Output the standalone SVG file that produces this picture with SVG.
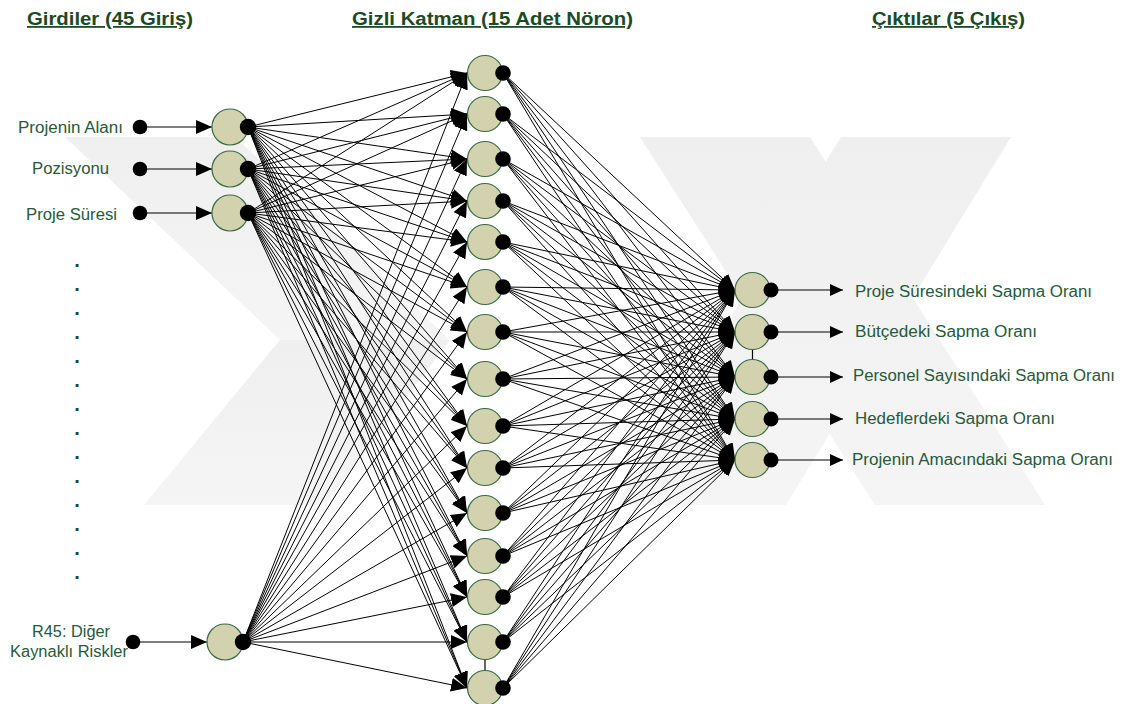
<svg xmlns="http://www.w3.org/2000/svg" width="1124" height="704" viewBox="0 0 1124 704">
  <defs>
    <style>
      .title { font-family: "Liberation Sans", Arial, sans-serif; font-size: 18px; font-weight: bold; fill: #1c4a26; text-decoration: underline; }
      .lbl { font-family: "Liberation Sans", Arial, sans-serif; font-size: 16px; fill: #28593a; }
      .dots { font-family: "Liberation Sans", Arial, sans-serif; font-size: 20px; font-weight: bold; fill: #1f4d2b; text-anchor: middle; }
      .wire line { stroke: #000; stroke-width: 1; marker-end: url(#ah); }
      .io { stroke: #000; stroke-width: 1.2; }
      .cell { fill: #d2d2ae; stroke: #3b6a45; stroke-width: 1.2; }
      .pin { fill: #000; }
    </style>
    <linearGradient id="fade" x1="0" y1="0" x2="0" y2="1">
      <stop offset="0" stop-color="#efefef"/>
      <stop offset="1" stop-color="#f5f5f5"/>
    </linearGradient>
    <marker id="ah" viewBox="0 0 16 14" refX="16" refY="7" markerWidth="16" markerHeight="14" markerUnits="userSpaceOnUse" orient="auto">
      <path d="M0,0 L16,7 L0,14 z" fill="#000"/>
    </marker>
    <marker id="ahs" viewBox="0 0 13 12" refX="13" refY="6" markerWidth="13" markerHeight="12" markerUnits="userSpaceOnUse" orient="auto">
      <path d="M0,0 L13,6 L0,12 z" fill="#000"/>
    </marker>
  </defs>

  <rect width="1124" height="704" fill="#fff"/>

  <!-- background emblem -->
  <g id="emblem" fill="url(#fade)">
    <polygon points="65,137 235,137 450,340 280,340"/>
    <polygon points="280,340 450,340 324,505 144,505"/>
    <polygon points="640,137 810,137 1045,505 875,505"/>
    <polygon points="841,137 1011,137 786,505 616,505"/>
  </g>

  <!-- headings -->
  <g id="headings">
    <text class="title" x="27" y="25" textLength="166" lengthAdjust="spacingAndGlyphs">Girdiler (45 Giriş)</text>
    <text class="title" x="352" y="25" textLength="281" lengthAdjust="spacingAndGlyphs">Gizli Katman (15 Adet Nöron)</text>
    <text class="title" x="872" y="25" textLength="153" lengthAdjust="spacingAndGlyphs">Çıktılar (5 Çıkış)</text>
  </g>

  <!-- connectors -->
  <g id="connectors">
    <!-- input feeds -->
    <line class="io" x1="140" y1="127" x2="212" y2="127" marker-end="url(#ah)"/>
    <line class="io" x1="140" y1="169" x2="212" y2="169" marker-end="url(#ah)"/>
    <line class="io" x1="140" y1="213" x2="212" y2="213" marker-end="url(#ah)"/>
    <line class="io" x1="133" y1="642" x2="207" y2="642" marker-end="url(#ah)"/>
    <!-- output feeds -->
    <line class="io" x1="771" y1="290" x2="843" y2="290" marker-end="url(#ahs)"/>
    <line class="io" x1="771" y1="332" x2="843" y2="332" marker-end="url(#ahs)"/>
    <line class="io" x1="771" y1="377" x2="843" y2="377" marker-end="url(#ahs)"/>
    <line class="io" x1="771" y1="419" x2="843" y2="419" marker-end="url(#ahs)"/>
    <line class="io" x1="771" y1="460" x2="843" y2="460" marker-end="url(#ahs)"/>
    <!-- short links between stacked cells -->
    <line class="io" x1="485" y1="659" x2="485" y2="671"/>
    <line class="io" x1="752.5" y1="349" x2="752.5" y2="360"/>

    <!-- input layer to hidden layer -->
    <g class="wire">
      <line x1="248" y1="127" x2="467" y2="73"/><line x1="248" y1="127" x2="467" y2="114"/><line x1="248" y1="127" x2="467" y2="159"/><line x1="248" y1="127" x2="467" y2="201"/><line x1="248" y1="127" x2="467" y2="242"/>
      <line x1="248" y1="127" x2="467" y2="287"/><line x1="248" y1="127" x2="467" y2="332"/><line x1="248" y1="127" x2="467" y2="379"/><line x1="248" y1="127" x2="467" y2="426"/><line x1="248" y1="127" x2="467" y2="468"/>
      <line x1="248" y1="127" x2="467" y2="513"/><line x1="248" y1="127" x2="467" y2="556"/><line x1="248" y1="127" x2="467" y2="597"/><line x1="248" y1="127" x2="467" y2="642"/><line x1="248" y1="127" x2="467" y2="688"/>

      <line x1="248" y1="169" x2="467" y2="73"/><line x1="248" y1="169" x2="467" y2="114"/><line x1="248" y1="169" x2="467" y2="159"/><line x1="248" y1="169" x2="467" y2="201"/><line x1="248" y1="169" x2="467" y2="242"/>
      <line x1="248" y1="169" x2="467" y2="287"/><line x1="248" y1="169" x2="467" y2="332"/><line x1="248" y1="169" x2="467" y2="379"/><line x1="248" y1="169" x2="467" y2="426"/><line x1="248" y1="169" x2="467" y2="468"/>
      <line x1="248" y1="169" x2="467" y2="513"/><line x1="248" y1="169" x2="467" y2="556"/><line x1="248" y1="169" x2="467" y2="597"/><line x1="248" y1="169" x2="467" y2="642"/><line x1="248" y1="169" x2="467" y2="688"/>

      <line x1="248" y1="213" x2="467" y2="73"/><line x1="248" y1="213" x2="467" y2="114"/><line x1="248" y1="213" x2="467" y2="159"/><line x1="248" y1="213" x2="467" y2="201"/><line x1="248" y1="213" x2="467" y2="242"/>
      <line x1="248" y1="213" x2="467" y2="287"/><line x1="248" y1="213" x2="467" y2="332"/><line x1="248" y1="213" x2="467" y2="379"/><line x1="248" y1="213" x2="467" y2="426"/><line x1="248" y1="213" x2="467" y2="468"/>
      <line x1="248" y1="213" x2="467" y2="513"/><line x1="248" y1="213" x2="467" y2="556"/><line x1="248" y1="213" x2="467" y2="597"/><line x1="248" y1="213" x2="467" y2="642"/><line x1="248" y1="213" x2="467" y2="688"/>

      <line x1="243" y1="642" x2="467" y2="73"/><line x1="243" y1="642" x2="467" y2="114"/><line x1="243" y1="642" x2="467" y2="159"/><line x1="243" y1="642" x2="467" y2="201"/><line x1="243" y1="642" x2="467" y2="242"/>
      <line x1="243" y1="642" x2="467" y2="287"/><line x1="243" y1="642" x2="467" y2="332"/><line x1="243" y1="642" x2="467" y2="379"/><line x1="243" y1="642" x2="467" y2="426"/><line x1="243" y1="642" x2="467" y2="468"/>
      <line x1="243" y1="642" x2="467" y2="513"/><line x1="243" y1="642" x2="467" y2="556"/><line x1="243" y1="642" x2="467" y2="597"/><line x1="243" y1="642" x2="467" y2="642"/><line x1="243" y1="642" x2="467" y2="688"/>
    </g>

    <!-- hidden layer to output layer -->
    <g class="wire">
      <line x1="503" y1="73" x2="735" y2="290"/><line x1="503" y1="73" x2="735" y2="332"/><line x1="503" y1="73" x2="735" y2="377"/><line x1="503" y1="73" x2="735" y2="419"/><line x1="503" y1="73" x2="735" y2="460"/>
      <line x1="503" y1="114" x2="735" y2="290"/><line x1="503" y1="114" x2="735" y2="332"/><line x1="503" y1="114" x2="735" y2="377"/><line x1="503" y1="114" x2="735" y2="419"/><line x1="503" y1="114" x2="735" y2="460"/>
      <line x1="503" y1="159" x2="735" y2="290"/><line x1="503" y1="159" x2="735" y2="332"/><line x1="503" y1="159" x2="735" y2="377"/><line x1="503" y1="159" x2="735" y2="419"/><line x1="503" y1="159" x2="735" y2="460"/>
      <line x1="503" y1="201" x2="735" y2="290"/><line x1="503" y1="201" x2="735" y2="332"/><line x1="503" y1="201" x2="735" y2="377"/><line x1="503" y1="201" x2="735" y2="419"/><line x1="503" y1="201" x2="735" y2="460"/>
      <line x1="503" y1="242" x2="735" y2="290"/><line x1="503" y1="242" x2="735" y2="332"/><line x1="503" y1="242" x2="735" y2="377"/><line x1="503" y1="242" x2="735" y2="419"/><line x1="503" y1="242" x2="735" y2="460"/>
      <line x1="503" y1="287" x2="735" y2="290"/><line x1="503" y1="287" x2="735" y2="332"/><line x1="503" y1="287" x2="735" y2="377"/><line x1="503" y1="287" x2="735" y2="419"/><line x1="503" y1="287" x2="735" y2="460"/>
      <line x1="503" y1="332" x2="735" y2="290"/><line x1="503" y1="332" x2="735" y2="332"/><line x1="503" y1="332" x2="735" y2="377"/><line x1="503" y1="332" x2="735" y2="419"/><line x1="503" y1="332" x2="735" y2="460"/>
      <line x1="503" y1="379" x2="735" y2="290"/><line x1="503" y1="379" x2="735" y2="332"/><line x1="503" y1="379" x2="735" y2="377"/><line x1="503" y1="379" x2="735" y2="419"/><line x1="503" y1="379" x2="735" y2="460"/>
      <line x1="503" y1="426" x2="735" y2="290"/><line x1="503" y1="426" x2="735" y2="332"/><line x1="503" y1="426" x2="735" y2="377"/><line x1="503" y1="426" x2="735" y2="419"/><line x1="503" y1="426" x2="735" y2="460"/>
      <line x1="503" y1="468" x2="735" y2="290"/><line x1="503" y1="468" x2="735" y2="332"/><line x1="503" y1="468" x2="735" y2="377"/><line x1="503" y1="468" x2="735" y2="419"/><line x1="503" y1="468" x2="735" y2="460"/>
      <line x1="503" y1="513" x2="735" y2="290"/><line x1="503" y1="513" x2="735" y2="332"/><line x1="503" y1="513" x2="735" y2="377"/><line x1="503" y1="513" x2="735" y2="419"/><line x1="503" y1="513" x2="735" y2="460"/>
      <line x1="503" y1="556" x2="735" y2="290"/><line x1="503" y1="556" x2="735" y2="332"/><line x1="503" y1="556" x2="735" y2="377"/><line x1="503" y1="556" x2="735" y2="419"/><line x1="503" y1="556" x2="735" y2="460"/>
      <line x1="503" y1="597" x2="735" y2="290"/><line x1="503" y1="597" x2="735" y2="332"/><line x1="503" y1="597" x2="735" y2="377"/><line x1="503" y1="597" x2="735" y2="419"/><line x1="503" y1="597" x2="735" y2="460"/>
      <line x1="503" y1="642" x2="735" y2="290"/><line x1="503" y1="642" x2="735" y2="332"/><line x1="503" y1="642" x2="735" y2="377"/><line x1="503" y1="642" x2="735" y2="419"/><line x1="503" y1="642" x2="735" y2="460"/>
      <line x1="503" y1="688" x2="735" y2="290"/><line x1="503" y1="688" x2="735" y2="332"/><line x1="503" y1="688" x2="735" y2="377"/><line x1="503" y1="688" x2="735" y2="419"/><line x1="503" y1="688" x2="735" y2="460"/>
    </g>
  </g>

  <!-- input sources -->
  <g id="src-alan"><circle class="pin" cx="140" cy="127" r="7.3"/><text class="lbl" x="18" y="132.5" textLength="105" lengthAdjust="spacingAndGlyphs">Projenin Alanı</text></g>
  <g id="src-pozisyon"><circle class="pin" cx="140" cy="169" r="7.3"/><text class="lbl" x="32" y="174" textLength="77" lengthAdjust="spacingAndGlyphs">Pozisyonu</text></g>
  <g id="src-sure"><circle class="pin" cx="140" cy="213" r="7.3"/><text class="lbl" x="26" y="220" textLength="91" lengthAdjust="spacingAndGlyphs">Proje Süresi</text></g>
  <g id="src-r45"><circle class="pin" cx="133" cy="642" r="7.3"/>
    <text class="lbl" x="32" y="637" textLength="78" lengthAdjust="spacingAndGlyphs">R45: Diğer</text>
    <text class="lbl" x="10" y="657" textLength="118" lengthAdjust="spacingAndGlyphs">Kaynaklı Riskler</text>
  </g>
  <g id="ellipsis">
    <text class="dots" x="77" y="267">.</text><text class="dots" x="77" y="291">.</text><text class="dots" x="77" y="315">.</text><text class="dots" x="77" y="339">.</text>
    <text class="dots" x="77" y="363">.</text><text class="dots" x="77" y="387">.</text><text class="dots" x="77" y="411">.</text><text class="dots" x="77" y="435">.</text>
    <text class="dots" x="77" y="459">.</text><text class="dots" x="77" y="483">.</text><text class="dots" x="77" y="507">.</text><text class="dots" x="77" y="531">.</text>
    <text class="dots" x="77" y="555">.</text><text class="dots" x="77" y="579">.</text>
  </g>

  <!-- input layer -->
  <g id="in-1"><circle class="cell" cx="230" cy="127" r="18"/><circle class="pin" cx="248" cy="127" r="8.2"/></g>
  <g id="in-2"><circle class="cell" cx="230" cy="169" r="18"/><circle class="pin" cx="248" cy="169" r="8.2"/></g>
  <g id="in-3"><circle class="cell" cx="230" cy="213" r="18"/><circle class="pin" cx="248" cy="213" r="8.2"/></g>
  <g id="in-45"><circle class="cell" cx="225" cy="642" r="18"/><circle class="pin" cx="243" cy="642" r="8.2"/></g>

  <!-- hidden layer -->
  <g id="h-1"><circle class="cell" cx="485" cy="73" r="17.5"/><circle class="pin" cx="503" cy="73" r="7.8"/></g>
  <g id="h-2"><circle class="cell" cx="485" cy="114" r="17.5"/><circle class="pin" cx="503" cy="114" r="7.8"/></g>
  <g id="h-3"><circle class="cell" cx="485" cy="159" r="17.5"/><circle class="pin" cx="503" cy="159" r="7.8"/></g>
  <g id="h-4"><circle class="cell" cx="485" cy="201" r="17.5"/><circle class="pin" cx="503" cy="201" r="7.8"/></g>
  <g id="h-5"><circle class="cell" cx="485" cy="242" r="17.5"/><circle class="pin" cx="503" cy="242" r="7.8"/></g>
  <g id="h-6"><circle class="cell" cx="485" cy="287" r="17.5"/><circle class="pin" cx="503" cy="287" r="7.8"/></g>
  <g id="h-7"><circle class="cell" cx="485" cy="332" r="17.5"/><circle class="pin" cx="503" cy="332" r="7.8"/></g>
  <g id="h-8"><circle class="cell" cx="485" cy="379" r="17.5"/><circle class="pin" cx="503" cy="379" r="7.8"/></g>
  <g id="h-9"><circle class="cell" cx="485" cy="426" r="17.5"/><circle class="pin" cx="503" cy="426" r="7.8"/></g>
  <g id="h-10"><circle class="cell" cx="485" cy="468" r="17.5"/><circle class="pin" cx="503" cy="468" r="7.8"/></g>
  <g id="h-11"><circle class="cell" cx="485" cy="513" r="17.5"/><circle class="pin" cx="503" cy="513" r="7.8"/></g>
  <g id="h-12"><circle class="cell" cx="485" cy="556" r="17.5"/><circle class="pin" cx="503" cy="556" r="7.8"/></g>
  <g id="h-13"><circle class="cell" cx="485" cy="597" r="17.5"/><circle class="pin" cx="503" cy="597" r="7.8"/></g>
  <g id="h-14"><circle class="cell" cx="485" cy="642" r="17.5"/><circle class="pin" cx="503" cy="642" r="7.8"/></g>
  <g id="h-15"><circle class="cell" cx="485" cy="688" r="17.5"/><circle class="pin" cx="503" cy="688" r="7.8"/></g>

  <!-- output layer -->
  <g id="out-1"><circle class="cell" cx="752.5" cy="290" r="17.5"/><circle class="pin" cx="771" cy="290" r="7.5"/>
    <text class="lbl" x="855" y="297" textLength="237" lengthAdjust="spacingAndGlyphs">Proje Süresindeki Sapma Oranı</text></g>
  <g id="out-2"><circle class="cell" cx="752.5" cy="332" r="17.5"/><circle class="pin" cx="771" cy="332" r="7.5"/>
    <text class="lbl" x="855" y="337" textLength="182" lengthAdjust="spacingAndGlyphs">Bütçedeki Sapma Oranı</text></g>
  <g id="out-3"><circle class="cell" cx="752.5" cy="377" r="17.5"/><circle class="pin" cx="771" cy="377" r="7.5"/>
    <text class="lbl" x="853" y="381" textLength="262" lengthAdjust="spacingAndGlyphs">Personel Sayısındaki Sapma Oranı</text></g>
  <g id="out-4"><circle class="cell" cx="752.5" cy="419" r="17.5"/><circle class="pin" cx="771" cy="419" r="7.5"/>
    <text class="lbl" x="855" y="424" textLength="200" lengthAdjust="spacingAndGlyphs">Hedeflerdeki Sapma Oranı</text></g>
  <g id="out-5"><circle class="cell" cx="752.5" cy="460" r="17.5"/><circle class="pin" cx="771" cy="460" r="7.5"/>
    <text class="lbl" x="852" y="465" textLength="261" lengthAdjust="spacingAndGlyphs">Projenin Amacındaki Sapma Oranı</text></g>
</svg>
